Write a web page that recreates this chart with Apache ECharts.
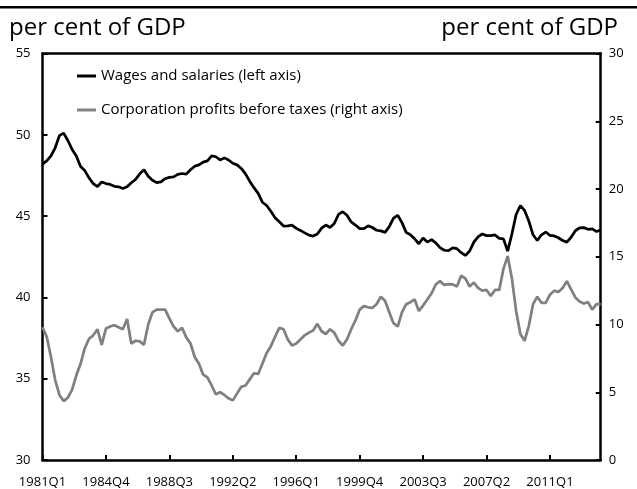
<!DOCTYPE html>
<html>
<head>
<meta charset="utf-8">
<script src="https://cdn.jsdelivr.net/npm/echarts@6/dist/echarts.min.js"></script>
<style>
  html, body { margin: 0; padding: 0; background: #fff; }
  #chart { width: 637px; height: 489px; }
</style>
</head>
<body>
<div id="chart"></div>
<script>
// quarters 1981Q1 .. 2014Q1
const firstYear = 1981
const quarterCount = 133
const quarters = []
for (let i = 0; i < quarterCount; i++) {
  quarters.push((firstYear + Math.floor(i / 4)) + 'Q' + (i % 4 + 1))
}
const labelEvery = 15

const seriesNames = ['Wages and salaries (left axis)', 'Corporation profits before taxes (right axis)']

// per cent of GDP, left axis
const wages = [
  48.2, 48.4, 48.7, 49.2, 49.95, 50.1, 49.65, 49.1, 48.7, 48.05,
  47.8, 47.35, 47.0, 46.82, 47.1, 47.0, 46.95, 46.83, 46.8, 46.7,
  46.8, 47.05, 47.25, 47.6, 47.85, 47.45, 47.2, 47.06, 47.1, 47.3,
  47.38, 47.41, 47.57, 47.62, 47.58, 47.85, 48.07, 48.15, 48.32, 48.4,
  48.7, 48.65, 48.45, 48.58, 48.45, 48.25, 48.15, 47.93, 47.6, 47.15,
  46.75, 46.4, 45.85, 45.65, 45.3, 44.9, 44.65, 44.39, 44.4, 44.45,
  44.25, 44.12, 43.97, 43.83, 43.77, 43.9, 44.26, 44.45, 44.3, 44.55,
  45.1, 45.27, 45.05, 44.64, 44.45, 44.23, 44.23, 44.4, 44.3, 44.13,
  44.09, 44.0, 44.35, 44.87, 45.05, 44.6, 44.0, 43.85, 43.6, 43.3,
  43.65, 43.4, 43.55, 43.35, 43.06, 42.9, 42.88, 43.05, 43.0, 42.75,
  42.58, 42.85, 43.4, 43.72, 43.9, 43.8, 43.8, 43.84, 43.63, 43.6,
  42.85, 43.9, 45.1, 45.65, 45.35, 44.7, 43.85, 43.5, 43.85, 44.02,
  43.82, 43.78, 43.67, 43.5, 43.4, 43.7, 44.1, 44.27, 44.29, 44.19,
  44.22, 44.05, 44.14
]

// per cent of GDP, right axis
const profits = [
  9.8, 9.1, 7.6, 5.9, 4.8, 4.35, 4.6, 5.2, 6.25, 7.1,
  8.25, 8.95, 9.2, 9.65, 8.5, 9.7, 9.85, 9.95, 9.8, 9.65,
  10.4, 8.6, 8.8, 8.75, 8.5, 10.0, 10.9, 11.1, 11.09, 11.1,
  10.45, 9.85, 9.5, 9.75, 9.05, 8.6, 7.6, 7.1, 6.3, 6.1,
  5.5, 4.85, 5.0, 4.8, 4.55, 4.4, 4.9, 5.4, 5.5, 5.95,
  6.4, 6.35, 7.1, 7.9, 8.4, 9.1, 9.75, 9.65, 8.9, 8.45,
  8.6, 8.9, 9.2, 9.4, 9.55, 10.05, 9.5, 9.3, 9.65, 9.4,
  8.8, 8.45, 8.9, 9.65, 10.3, 11.1, 11.36, 11.27, 11.23, 11.5,
  12.05, 11.75, 10.9, 10.1, 9.85, 10.9, 11.5, 11.65, 11.85, 11.0,
  11.4, 11.85, 12.3, 12.95, 13.2, 12.92, 12.98, 12.96, 12.8, 13.6,
  13.4, 12.8, 13.1, 12.7, 12.5, 12.55, 12.1, 12.55, 12.55, 14.1,
  15.05, 13.4, 11.0, 9.3, 8.8, 9.9, 11.5, 12.05, 11.6, 11.6,
  12.2, 12.5, 12.4, 12.7, 13.2, 12.6, 12.0, 11.7, 11.55, 11.65,
  11.1, 11.5, 11.5
]

const font = '"Open Sans", "Liberation Sans", sans-serif'
const chart = echarts.init(document.getElementById('chart'), null, { renderer: 'canvas' })

function frameLine() {
  return { show: true, onZero: false, lineStyle: { color: '#000', width: 2.5 } }
}
function innerTicks(extra) {
  return Object.assign({ show: true, inside: true, length: 5, lineStyle: { color: '#000', width: 2 } }, extra || {})
}

chart.setOption({
  animation: false,
  backgroundColor: '#fff',
  title: [
    { text: 'per cent of GDP', left: 9, top: 16, padding: 0,
      textStyle: { fontFamily: font, fontSize: 24, fontWeight: 'normal', color: '#000' } },
    { text: 'per cent of GDP', right: 19, top: 16, padding: 0,
      textStyle: { fontFamily: font, fontSize: 24, fontWeight: 'normal', color: '#000' } }
  ],
  // rule across the top of the figure
  graphic: [{
    type: 'line',
    shape: { x1: 0, y1: 7.3, x2: 637, y2: 7.3 },
    style: { stroke: '#000', lineWidth: 2.5 }
  }],
  legend: {
    orient: 'vertical',
    left: 77,
    top: 68,
    padding: 0,
    icon: 'rect',
    itemWidth: 19,
    itemHeight: 3,
    itemGap: 18,
    data: seriesNames,
    textStyle: { fontFamily: font, fontSize: 15, color: '#000', lineHeight: 16 }
  },
  grid: { left: 42.5, right: 36.3, top: 53.5, bottom: 27.5 },
  xAxis: [
    {
      type: 'category',
      data: quarters,
      boundaryGap: false,
      position: 'bottom',
      axisLine: frameLine(),
      axisTick: innerTicks({ interval: labelEvery - 1 }),
      axisLabel: { interval: labelEvery - 1, margin: 16, color: '#000', fontFamily: font, fontSize: 13 },
      splitLine: { show: false }
    },
    {
      // top frame line only
      type: 'category',
      data: quarters,
      boundaryGap: false,
      position: 'top',
      axisLine: frameLine(),
      axisTick: { show: false },
      axisLabel: { show: false },
      splitLine: { show: false }
    }
  ],
  yAxis: [
    {
      type: 'value', min: 30, max: 55, interval: 5, position: 'left',
      axisLine: frameLine(),
      axisTick: innerTicks(),
      axisLabel: { margin: 12, color: '#000', fontFamily: font, fontSize: 13 },
      splitLine: { show: false }
    },
    {
      type: 'value', min: 0, max: 30, interval: 5, position: 'right',
      axisLine: frameLine(),
      axisTick: innerTicks(),
      axisLabel: { margin: 8, color: '#000', fontFamily: font, fontSize: 13 },
      splitLine: { show: false }
    }
  ],
  series: [
    {
      name: seriesNames[0], type: 'line', xAxisIndex: 0, yAxisIndex: 0, data: wages,
      symbol: 'none', color: '#000',
      lineStyle: { color: '#000', width: 2.75 }
    },
    {
      name: seriesNames[1], type: 'line', xAxisIndex: 0, yAxisIndex: 1, data: profits,
      symbol: 'none', color: '#808080',
      lineStyle: { color: '#808080', width: 2.75 }
    }
  ]
})
</script>
</body>
</html>
